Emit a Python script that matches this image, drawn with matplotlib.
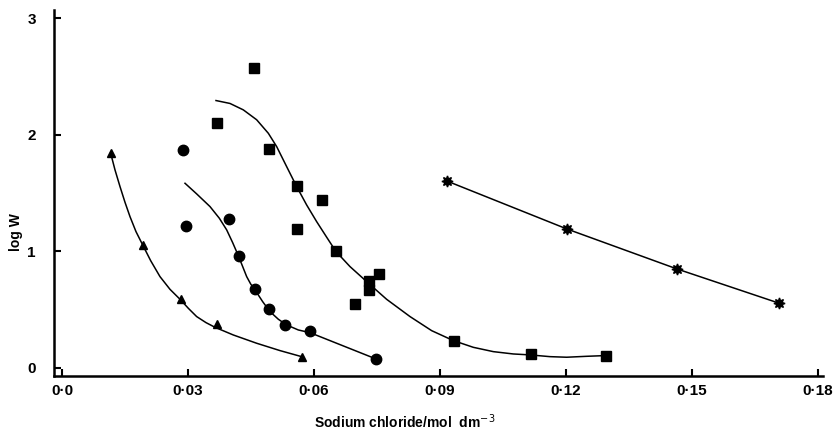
import matplotlib
matplotlib.use("Agg")
from matplotlib import pyplot as plt

# measured points (x = NaCl / mol dm-3, y = log W)
tri_x = [0.0116, 0.0192, 0.0283, 0.0368, 0.0572]
tri_y = [1.843, 1.053, 0.590, 0.378, 0.097]

circ_x = [0.0287, 0.0296, 0.0397, 0.0421, 0.0460, 0.0492, 0.0530, 0.0590, 0.0748]
circ_y = [1.868, 1.222, 1.276, 0.961, 0.678, 0.504, 0.369, 0.315, 0.075]

sq_x = [0.0369, 0.0457, 0.0494, 0.0559, 0.0559, 0.0620, 0.0652, 0.0698,
        0.0730, 0.0732, 0.0755, 0.0933, 0.1117, 0.1295]
sq_y = [2.100, 2.575, 1.883, 1.562, 1.190, 1.439, 1.001, 0.552,
        0.744, 0.672, 0.804, 0.232, 0.117, 0.106]

star_x = [0.0916, 0.1202, 0.1464, 0.1708]
star_y = [1.605, 1.193, 0.850, 0.555]

# hand-drawn fitted curves
tri_cx = [0.01159, 0.01262, 0.01381, 0.0150, 0.01619, 0.01762, 0.01921, 0.02111,
          0.02333, 0.02571, 0.02825, 0.03008, 0.03206, 0.03429, 0.03643, 0.04079,
          0.04635, 0.0519, 0.05706]
tri_cy = [1.843, 1.700, 1.557, 1.422, 1.299, 1.170, 1.056, 0.921,
          0.784, 0.675, 0.584, 0.512, 0.441, 0.389, 0.349, 0.283,
          0.212, 0.149, 0.097]

circ_cx = [0.02929, 0.03206, 0.03524, 0.03746, 0.03921, 0.04063, 0.04198, 0.04302,
           0.04397, 0.04492, 0.04595, 0.04778, 0.04952, 0.05151, 0.05349, 0.05627,
           0.05905, 0.07492]
circ_cy = [1.585, 1.494, 1.385, 1.285, 1.185, 1.076, 0.964, 0.870,
           0.784, 0.721, 0.670, 0.569, 0.484, 0.418, 0.369, 0.326,
           0.303, 0.075]

sq_cx = [0.03667, 0.0400, 0.04317, 0.04635, 0.04913, 0.05111, 0.05349, 0.05587,
         0.05825, 0.06063, 0.06302, 0.06524, 0.06857, 0.07254, 0.0773, 0.08286,
         0.08802, 0.09317, 0.09794, 0.1027, 0.10746, 0.11143, 0.11619, 0.12016,
         0.12492, 0.12929]
sq_cy = [2.295, 2.270, 2.215, 2.130, 2.014, 1.900, 1.728, 1.557,
         1.399, 1.256, 1.122, 0.999, 0.870, 0.741, 0.589, 0.441,
         0.320, 0.235, 0.177, 0.140, 0.120, 0.112, 0.097, 0.092,
         0.100, 0.106]

xticks = [0.0, 0.03, 0.06, 0.09, 0.12, 0.15, 0.18]
xtick_labels = ["0\u00b70", "0\u00b703", "0\u00b706", "0\u00b709", "0\u00b712", "0\u00b715", "0\u00b718"]
yticks = [0, 1, 2, 3]

plt.rcParams['font.family'] = ['Liberation Sans', 'DejaVu Sans']

fig = plt.figure(figsize=(8.36, 4.30), dpi=100)
ax = fig.add_axes([0.0646, 0.1256, 0.9199, 0.8514])

for cx, cy in [(tri_cx, tri_cy), (circ_cx, circ_cy), (sq_cx, sq_cy), (star_x, star_y)]:
    ax.plot(cx, cy, color='black', lw=1.1, solid_joinstyle='round')

ax.plot(tri_x, tri_y, '^', color='black', ms=6, ls='none')
ax.plot(circ_x, circ_y, 'o', color='black', ms=7.5, ls='none')
ax.plot(sq_x, sq_y, 's', color='black', ms=7, ls='none')
ax.plot(star_x, star_y, marker=(8, 1, 0), color='black', ms=8, ls='none')

ax.set_xlim(-0.0019, 0.1812)
ax.set_ylim(-0.069, 3.073)

for s in ['top', 'right']:
    ax.spines[s].set_visible(False)
for s in ['left', 'bottom']:
    ax.spines[s].set_linewidth(1.8)

ax.set_xticks(xticks)
ax.set_xticklabels(xtick_labels, fontsize=11, fontweight='bold')
ax.set_yticks(yticks)
ax.set_yticklabels([str(t) for t in yticks], fontsize=11, fontweight='bold')
ax.tick_params(axis='x', direction='in', length=5, width=1.5, pad=6)
ax.tick_params(axis='y', direction='in', length=5, width=1.5, pad=13)

ax.set_xlabel("Sodium chloride/mol  dm$^{-3}$", fontsize=10, fontweight='bold')
ax.xaxis.set_label_coords(0.456, -0.10)
ax.set_ylabel("log W", fontsize=10, fontweight='bold', va='center')
ax.yaxis.set_label_coords(-0.05, 0.393)

fig.savefig("out.png", dpi=100)
